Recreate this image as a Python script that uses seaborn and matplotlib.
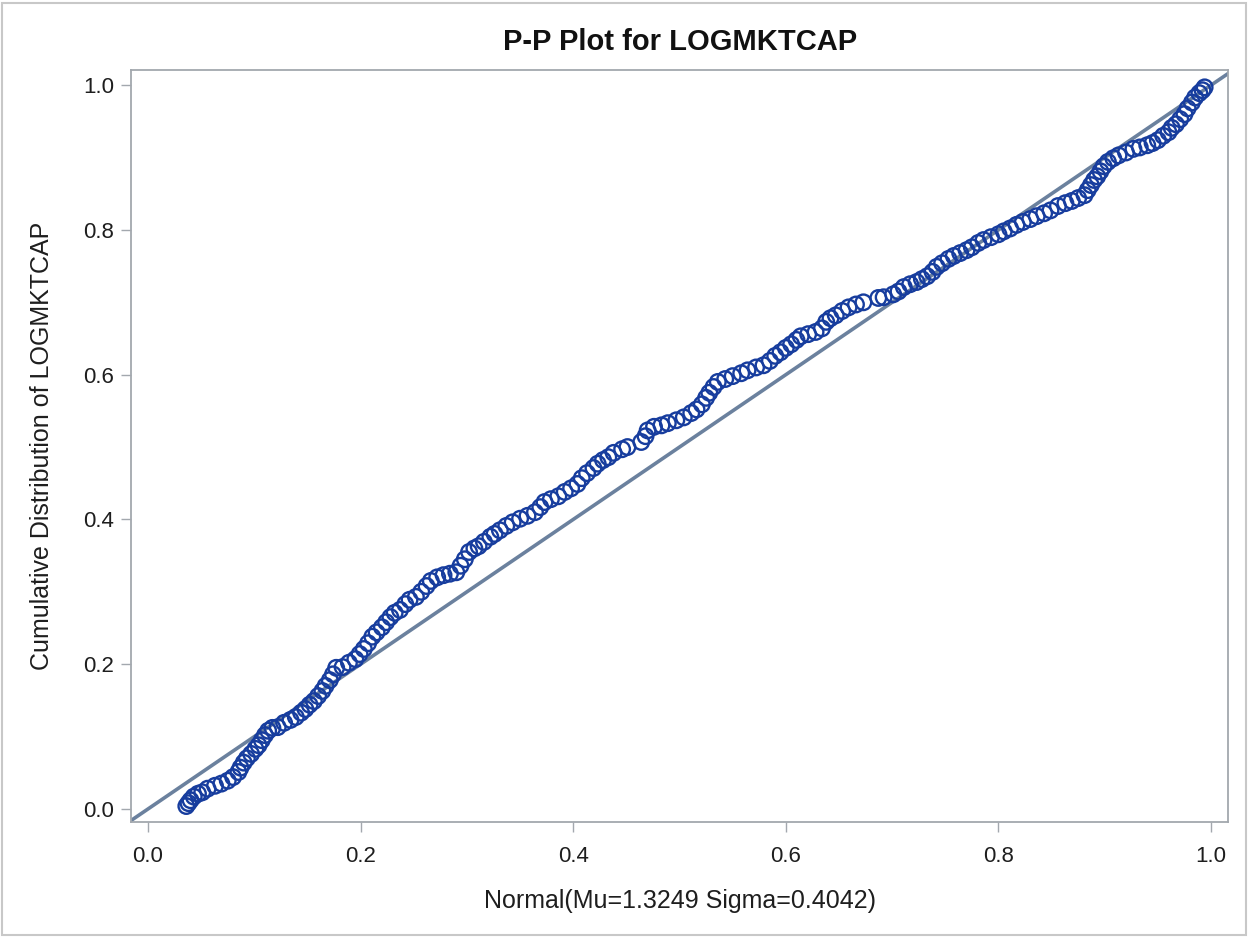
import matplotlib
matplotlib.use("Agg")
import matplotlib.pyplot as plt
import pandas as pd
import seaborn as sns

# theoretical normal CDF (x) vs empirical cumulative distribution (y)
normal_cdf = [
    0.036, 0.038, 0.040, 0.043, 0.047, 0.051, 0.056, 0.063, 0.069, 0.075,
    0.080, 0.085, 0.087, 0.090, 0.093, 0.097, 0.101, 0.104, 0.107, 0.110,
    0.113, 0.117, 0.122, 0.128, 0.134, 0.139, 0.144, 0.148, 0.152, 0.156,
    0.160, 0.164, 0.167, 0.171, 0.174, 0.177, 0.183, 0.189, 0.195, 0.199,
    0.203, 0.207, 0.211, 0.215, 0.220, 0.224, 0.228, 0.232, 0.237, 0.242,
    0.246, 0.252, 0.257, 0.262, 0.266, 0.272, 0.278, 0.284, 0.290, 0.294,
    0.298, 0.302, 0.307, 0.311, 0.316, 0.322, 0.326, 0.331, 0.337, 0.343,
    0.350, 0.357, 0.364, 0.369, 0.373, 0.379, 0.386, 0.392, 0.398, 0.404,
    0.408, 0.413, 0.419, 0.423, 0.428, 0.433, 0.438, 0.446, 0.451, 0.464,
    0.468, 0.470, 0.476, 0.483, 0.489, 0.497, 0.504, 0.511, 0.516, 0.521,
    0.525, 0.528, 0.532, 0.536, 0.543, 0.550, 0.558, 0.564, 0.572, 0.579,
    0.585, 0.590, 0.595, 0.600, 0.605, 0.610, 0.614, 0.621, 0.628, 0.634,
    0.638, 0.642, 0.647, 0.653, 0.659, 0.666, 0.673, 0.687, 0.692, 0.701,
    0.706, 0.711, 0.717, 0.723, 0.728, 0.733, 0.738, 0.742, 0.747, 0.753,
    0.758, 0.764, 0.770, 0.775, 0.781, 0.786, 0.793, 0.800, 0.805, 0.811,
    0.817, 0.823, 0.830, 0.836, 0.843, 0.849, 0.856, 0.863, 0.869, 0.875,
    0.881, 0.884, 0.887, 0.890, 0.893, 0.896, 0.899, 0.903, 0.908, 0.913,
    0.920, 0.927, 0.933, 0.940, 0.945, 0.950, 0.955, 0.960, 0.963, 0.967,
    0.971, 0.975, 0.978, 0.982, 0.985, 0.989, 0.992, 0.994,
]
empirical_cdf = [
    0.004, 0.008, 0.012, 0.017, 0.021, 0.023, 0.028, 0.032, 0.035, 0.039,
    0.044, 0.051, 0.057, 0.064, 0.070, 0.076, 0.083, 0.088, 0.095, 0.102,
    0.108, 0.112, 0.113, 0.119, 0.123, 0.127, 0.133, 0.138, 0.144, 0.149,
    0.156, 0.163, 0.170, 0.178, 0.186, 0.195, 0.196, 0.202, 0.207, 0.214,
    0.221, 0.229, 0.238, 0.244, 0.251, 0.258, 0.265, 0.271, 0.275, 0.283,
    0.289, 0.293, 0.300, 0.308, 0.315, 0.320, 0.323, 0.325, 0.327, 0.336,
    0.345, 0.355, 0.360, 0.363, 0.369, 0.376, 0.380, 0.385, 0.391, 0.396,
    0.401, 0.405, 0.410, 0.417, 0.424, 0.428, 0.432, 0.438, 0.443, 0.449,
    0.457, 0.464, 0.471, 0.477, 0.482, 0.486, 0.492, 0.497, 0.500, 0.507,
    0.515, 0.523, 0.528, 0.530, 0.533, 0.537, 0.541, 0.547, 0.552, 0.559,
    0.568, 0.575, 0.583, 0.590, 0.594, 0.598, 0.602, 0.606, 0.610, 0.613,
    0.619, 0.626, 0.631, 0.637, 0.642, 0.648, 0.653, 0.656, 0.659, 0.664,
    0.673, 0.678, 0.682, 0.688, 0.693, 0.697, 0.700, 0.706, 0.707, 0.711,
    0.715, 0.721, 0.725, 0.728, 0.732, 0.736, 0.742, 0.749, 0.754, 0.760,
    0.764, 0.768, 0.772, 0.776, 0.782, 0.786, 0.790, 0.794, 0.798, 0.802,
    0.807, 0.811, 0.815, 0.819, 0.823, 0.827, 0.833, 0.837, 0.840, 0.844,
    0.848, 0.855, 0.862, 0.869, 0.874, 0.881, 0.888, 0.894, 0.899, 0.903,
    0.907, 0.912, 0.914, 0.917, 0.920, 0.924, 0.930, 0.935, 0.941, 0.946,
    0.953, 0.960, 0.968, 0.976, 0.983, 0.989, 0.993, 0.997,
]
ticks = [0.0, 0.2, 0.4, 0.6, 0.8, 1.0]
tick_labels = ["0.0", "0.2", "0.4", "0.6", "0.8", "1.0"]

df = pd.DataFrame({"x": normal_cdf, "y": empirical_cdf})

sns.set_style("white")
plt.rcParams["font.family"] = ["Liberation Sans", "DejaVu Sans"]

point_color = "#173d9e"
line_color = "#6b819e"
frame_color = "#a3a8ae"
text_color = "#1e1e1e"

fig = plt.figure(figsize=(12.48, 9.38), dpi=100)
ax = fig.add_axes([0.105, 0.1237, 0.879, 0.8017])

ax.axline((0, 0), slope=1, color=line_color, lw=2.6, zorder=1)
sns.scatterplot(data=df, x="x", y="y", ax=ax, marker="o", s=125,
                facecolor="none", edgecolor=point_color, linewidth=1.7,
                zorder=2, legend=False)

ax.set_xlim(-0.016, 1.016)
ax.set_ylim(-0.018, 1.021)
ax.set_xticks(ticks)
ax.set_xticklabels(tick_labels)
ax.set_yticks(ticks)
ax.set_yticklabels(tick_labels)
ax.tick_params(axis="both", direction="out", length=7, width=1,
               color=frame_color, labelsize=16, labelcolor=text_color,
               bottom=True, left=True, pad=5)
ax.tick_params(axis="x", pad=10)
for sp in ax.spines.values():
    sp.set_color(frame_color)
    sp.set_linewidth(1.3)

ax.set_xlabel("Normal(Mu=1.3249 Sigma=0.4042)", fontsize=18, color=text_color,
              labelpad=16)
ax.set_ylabel("Cumulative Distribution of LOGMKTCAP", fontsize=18,
              color=text_color, labelpad=21)
fig.suptitle("P-P Plot for LOGMKTCAP", fontsize=21, fontweight="bold",
             y=0.955, va="center", x=0.545, color="#111111")

# light border around the whole graph
fig.patches.append(plt.Rectangle((0.002, 0.003), 0.996, 0.994,
                                 transform=fig.transFigure, fill=False,
                                 edgecolor="#c8c8c8", lw=1.5))

fig.savefig("out.png", dpi=100)
